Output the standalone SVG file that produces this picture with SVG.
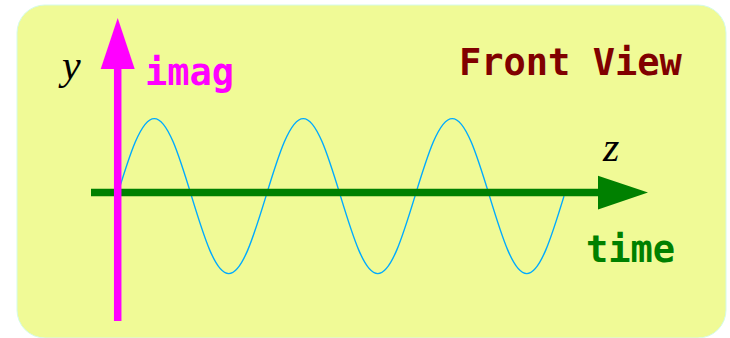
<svg xmlns="http://www.w3.org/2000/svg" width="730" height="338" viewBox="0 0 730 338">
<style>
.mono{font-family:"DejaVu Sans Mono","Liberation Mono",monospace;font-weight:bold;font-size:37px}
.math{font-family:"Liberation Serif","DejaVu Serif",serif;font-style:italic;font-size:42px;fill:#000}
</style>
<rect x="17" y="5" width="709" height="333" rx="28" ry="28" fill="#f0fa96" stroke="#d4fbe8" stroke-width="1"/>
<g id="wave">
<path fill="none" stroke="#00aaff" stroke-width="1.4" d="M117,196.1 c12.45,-40.7 23.84,-77.5 37.25,-77.5 c13.41,0 24.8,36.8 37.25,77.5 c12.45,40.7 23.84,77.5 37.25,77.5 c13.41,0 24.8,-36.8 37.25,-77.5 c12.45,-40.7 23.84,-77.5 37.25,-77.5 c13.41,0 24.8,36.8 37.25,77.5 c12.45,40.7 23.84,77.5 37.25,77.5 c13.41,0 24.8,-36.8 37.25,-77.5 c12.45,-40.7 23.84,-77.5 37.25,-77.5 c13.41,0 24.8,36.8 37.25,77.5 c12.45,40.7 23.84,77.5 37.25,77.5 c13.41,0 24.8,-36.8 37.25,-77.5"/>
</g>
<g id="connectors">
<g id="time-axis">
<line x1="91" y1="192.6" x2="600" y2="192.6" stroke="#008000" stroke-width="7.5"/>
<polygon points="648,192.6 598,175.8 598,209.4" fill="#008000"/>
</g>
<g id="imag-axis">
<line x1="117.7" y1="321" x2="117.7" y2="66" stroke="#ff00ff" stroke-width="7.5"/>
<polygon points="117.7,18 100.7,69 134.7,69" fill="#ff00ff"/>
</g>
</g>
<g id="labels">
<text class="math" x="62" y="79">y</text>
<text class="mono" x="145" y="85" fill="#ff00ff">imag</text>
<text class="mono" x="459" y="75" fill="#800000">Front View</text>
<text class="math" x="603" y="161">z</text>
<text class="mono" x="586" y="262" fill="#008000">time</text>
</g>
</svg>
